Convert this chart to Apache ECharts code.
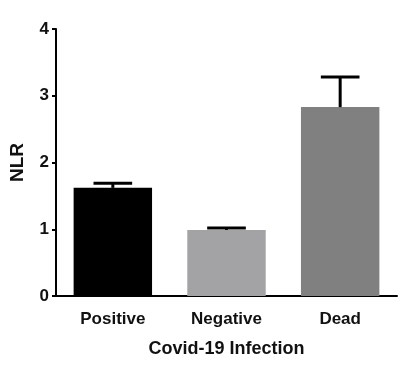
<!DOCTYPE html>
<html>
<head>
<meta charset="utf-8">
<script src="https://cdn.jsdelivr.net/npm/echarts@6/dist/echarts.min.js"></script>
<style>html,body{margin:0;padding:0;background:#fff}#c{width:406px;height:372px}</style>
</head>
<body>
<div id="c"></div>
<script>
var categories = ['Positive', 'Negative', 'Dead'];
var means = [1.62, 0.99, 2.83];
var sems = [0.07, 0.03, 0.45];
var barColors = ['#000000', '#a3a3a5', '#808080'];
var yTicks = [0, 1, 2, 3, 4];

var chart = echarts.init(document.getElementById('c'));
var font = '"Liberation Sans", Arial, sans-serif';
chart.setOption({
  animation: false,
  grid: { left: 52, right: 9, top: 29, bottom: 76 },
  xAxis: {
    type: 'category',
    data: categories,
    name: 'Covid-19 Infection',
    nameLocation: 'middle',
    nameGap: 44,
    nameTextStyle: { fontFamily: font, fontWeight: 'bold', fontSize: 18, color: '#111' },
    axisLine: { lineStyle: { color: '#000', width: 2 } },
    axisTick: { alignWithLabel: true, length: 5, lineStyle: { color: '#000', width: 2 } },
    axisLabel: { fontFamily: font, fontWeight: 'bold', fontSize: 17, color: '#111', margin: 15 }
  },
  yAxis: {
    type: 'value',
    min: yTicks[0],
    max: yTicks[yTicks.length - 1],
    interval: 1,
    name: 'NLR',
    nameLocation: 'middle',
    nameGap: 29,
    nameRotate: 90,
    nameTextStyle: { fontFamily: font, fontWeight: 'bold', fontSize: 19, color: '#111' },
    splitLine: { show: false },
    axisLine: { show: true, lineStyle: { color: '#000', width: 2 } },
    axisTick: { show: true, length: 4, lineStyle: { color: '#000', width: 2 } },
    axisLabel: { fontFamily: font, fontWeight: 'bold', fontSize: 17, color: '#111', margin: 7 }
  },
  series: [
    {
      type: 'bar',
      barWidth: '69%',
      data: means.map(function (v, i) { return { value: v, itemStyle: { color: barColors[i] } }; }),
      z: 2
    },
    {
      type: 'custom',
      z: 3,
      data: means.map(function (v, i) { return [i, v, v + sems[i]]; }),
      renderItem: function (params, api) {
        var idx = api.value(0);
        var p0 = api.coord([idx, api.value(1)]);
        var p1 = api.coord([idx, api.value(2)]);
        var hw = api.size([1, 0])[0] * 0.17;
        return {
          type: 'group',
          children: [
            { type: 'line', shape: { x1: p0[0], y1: p0[1], x2: p1[0], y2: p1[1] }, style: { stroke: '#000', lineWidth: 3 } },
            { type: 'line', shape: { x1: p1[0] - hw, y1: p1[1], x2: p1[0] + hw, y2: p1[1] }, style: { stroke: '#000', lineWidth: 3 } }
          ]
        };
      }
    }
  ]
});
</script>
</body>
</html>
